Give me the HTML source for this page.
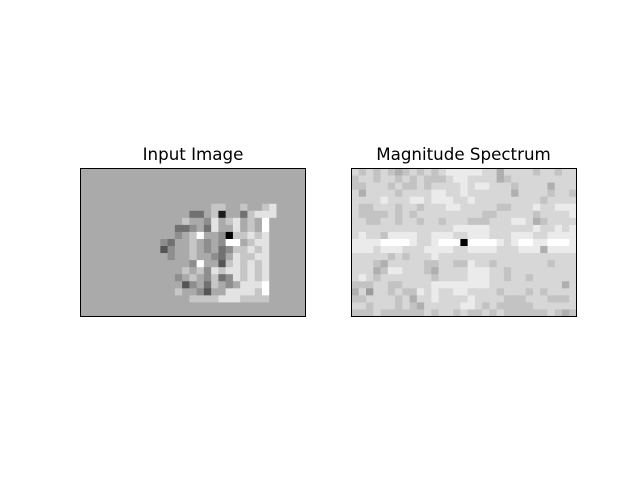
<!DOCTYPE html>
<html><head><meta charset="utf-8"><style>
html,body{margin:0;padding:0;background:#fff;}
svg{display:block;}
text{font-family:"DejaVu Sans","Liberation Sans",sans-serif;font-size:16.7px;}
</style></head><body>
<svg id="fig" width="640" height="480">
  <text x="193" y="160" text-anchor="middle">Input Image</text>
  <text x="463.5" y="160" text-anchor="middle">Magnitude Spectrum</text>
  <g id="left"></g>
  <g id="right"></g>
  <rect x="80.5" y="168.5" width="225" height="148" fill="none" stroke="#000"/>
  <rect x="351.5" y="168.5" width="225" height="148" fill="none" stroke="#000"/>
</svg>
<script>
const nCols = 31;
const nRows = 21;
const inputRows = [
"6","6","6","6","6",
"666666666666666666776676678",
"666666666666666446716647888",
"666666666666667665867867696",
"666666666666644564866867696",
"666666666666656796650778786",
"666666666665466765659967886",
"666666666663566765645778786",
"666666666666566766546877886",
"666666666666666596637878786",
"666666666666667675878878786",
"666666666666656765745878786",
"666666666666663564765688896",
"666666666666676653668888796",
"6666666666666667777888777766",
"6","6"
];
const spectrumRows = [
"7676765676767888"+"887757777677677",
"6776776767666788"+"777756777777777",
"6677767667677778"+"788777677775777",
"7577776777788778"+"777777577776776",
"7777877788788877"+"877777777767777",
"7667776776777887"+"777766777877888",
"7666676767777777"+"776677777677778",
"7766776776776777"+"666777887567777",
"7777777777777788"+"888777777877878",
"7877688887788877"+"888777888778888",
"8888999987789990"+"999987899889998",
"8887888777888877"+"888877788858888",
"7777767677787777"+"777777777777777",
"7776577777667766"+"877677777776777",
"7775688777657777"+"888776777777777",
"7876777777767777"+"888776776777777",
"6667766777788888"+"888777777777757",
"5747767668787788"+"777767776767777",
"6677776757787777"+"877776667776667",
"7767776765777778"+"876766666777777",
"6667666666767767"+"667676666667656"
];
function draw(gid, rows, x0, y0, w, h, prefix, scale){
  const g = document.getElementById(gid);
  const cw = w / nCols, ch = h / nRows;
  const ns = "http://www.w3.org/2000/svg";
  for (let r = 0; r < nRows; r++){
    const s = rows[r].padEnd(nCols, '6');
    for (let c = 0; c < nCols; c++){
      const v = scale(parseInt(s[c]));
      const rect = document.createElementNS(ns, "rect");
      rect.setAttribute("x", (x0 + c*cw).toFixed(2));
      rect.setAttribute("y", (y0 + r*ch).toFixed(2));
      rect.setAttribute("width", (cw+0.4).toFixed(2));
      rect.setAttribute("height", (ch+0.4).toFixed(2));
      rect.setAttribute("fill", "rgb("+v+","+v+","+v+")");
      
      
      g.appendChild(rect);
    }
  }
}
draw("left", inputRows, 80.5, 168.5, 225, 148, "input-image", d => Math.round(d*255/9));
draw("right", spectrumRows, 351.5, 168.5, 225, 148, "spectrum", d => d === 0 ? 0 : 255 - (9-d)*20);
</script>
</body></html>
